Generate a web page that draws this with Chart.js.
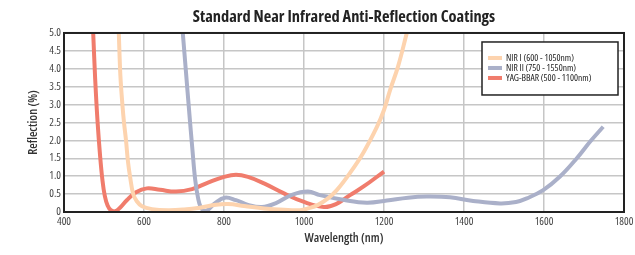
<!DOCTYPE html>
<html lang="en">
<head>
    <meta charset="UTF-8">
    <title>Standard Near Infrared Anti-Reflection Coatings</title>
    <script src="https://cdn.jsdelivr.net/npm/chart.js"></script>
    <style>
        html, body {
            margin: 0;
            padding: 0;
            background: #fff;
        }
        canvas {
            display: block;
        }
    </style>
</head>
<body>

    <canvas id="graficaAR" width="635" height="255"></canvas>

    <script>
        // Datos (longitud de onda en nm, reflexion en %)
        const nirIWave = [537, 541, 546, 550, 555, 560, 565, 573, 582, 595, 620, 660, 700, 740, 780, 810, 850, 900, 950, 990, 1010, 1035, 1060, 1082, 1115, 1148, 1182, 1200, 1215, 1235, 1257];
        const nirIRefl = [5.0, 3.8, 3.0, 2.5, 2.0, 1.4, 1.0, 0.5, 0.3, 0.16, 0.08, 0.05, 0.07, 0.12, 0.2, 0.22, 0.17, 0.1, 0.06, 0.05, 0.1, 0.2, 0.38, 0.61, 1.09, 1.65, 2.37, 2.85, 3.4, 4.06, 5.0];

        const nirIIWave = [697, 705, 713, 721, 728, 735, 742, 751, 762, 777, 802, 830, 860, 895, 930, 970, 1010, 1040, 1098, 1157, 1207, 1260, 1307, 1365, 1423, 1490, 1530, 1557, 1598, 1640, 1682, 1715, 1748];
        const nirIIRefl = [5.0, 3.9, 2.8, 1.75, 0.9, 0.4, 0.13, 0.03, 0.08, 0.24, 0.4, 0.33, 0.2, 0.14, 0.25, 0.48, 0.57, 0.47, 0.34, 0.26, 0.32, 0.4, 0.43, 0.41, 0.31, 0.24, 0.28, 0.38, 0.61, 0.99, 1.5, 1.96, 2.38];

        const yagWave = [473, 478, 484, 490, 496, 502, 509, 517, 528, 540, 557, 580, 607, 640, 680, 720, 760, 800, 830, 860, 900, 950, 1000, 1050, 1080, 1115, 1150, 1200];
        const yagRefl = [5.0, 3.7, 2.5, 1.6, 0.9, 0.45, 0.18, 0.05, 0.02, 0.12, 0.33, 0.55, 0.66, 0.62, 0.57, 0.64, 0.82, 0.98, 1.04, 0.98, 0.8, 0.52, 0.28, 0.14, 0.22, 0.47, 0.72, 1.13];

        const seriesNames = ['NIR I (600 - 1050nm)', 'NIR II (750 - 1550nm)', 'YAG-BBAR (500 - 1100nm)'];
        const xTicks = [400, 600, 800, 1000, 1200, 1400, 1600, 1800];
        const yTicks = [0, 0.5, 1.0, 1.5, 2.0, 2.5, 3.0, 3.5, 4.0, 4.5, 5.0];

        // Open Sans en ancho condensado (parecido a la fuente original)
        const fuente = '"Open Sans", "Roboto Condensed", sans-serif';

        function puntos(xs, ys) {
            return xs.map((x, i) => ({ x: x, y: ys[i] }));
        }

        // marco negro alrededor del area del grafico
        const marco = {
            id: 'marco',
            afterDatasetsDraw(chart) {
                const { ctx, chartArea: a } = chart;
                ctx.save();
                ctx.strokeStyle = '#222';
                ctx.lineWidth = 2;
                ctx.strokeRect(a.left, a.top, a.right - a.left, a.bottom - a.top);
                ctx.restore();
            }
        };

        // leyenda dentro del area del grafico, arriba a la derecha
        const leyenda = {
            id: 'leyenda',
            afterDraw(chart) {
                const { ctx, chartArea: a } = chart;
                const x = a.right - 142, y = a.top + 9, w = 136, h = 53;
                ctx.save();
                ctx.fillStyle = '#fff';
                ctx.fillRect(x, y, w, h);
                ctx.strokeStyle = '#222';
                ctx.lineWidth = 1.5;
                ctx.strokeRect(x, y, w, h);
                ctx.font = '500 condensed 9.5px ' + fuente;
                ctx.textBaseline = 'middle';
                chart.data.datasets.forEach((ds, i) => {
                    const ly = y + 16 + i * 10;
                    ctx.fillStyle = ds.borderColor;
                    ctx.fillRect(x + 6, ly - 2, 14, 4);
                    ctx.fillStyle = '#222';
                    ctx.fillText(ds.label, x + 24, ly);
                });
                ctx.restore();
            }
        };

        const ctx = document.getElementById('graficaAR').getContext('2d');
        const grafica = new Chart(ctx, {
            type: 'line',
            data: {
                datasets: [{
                    label: seriesNames[0],
                    data: puntos(nirIWave, nirIRefl),
                    borderColor: '#fdd3ae'
                }, {
                    label: seriesNames[1],
                    data: puntos(nirIIWave, nirIIRefl),
                    borderColor: '#aab0c9'
                }, {
                    label: seriesNames[2],
                    data: puntos(yagWave, yagRefl),
                    borderColor: '#f07c6c'
                }]
            },
            options: {
                responsive: false,
                animation: false,
                layout: { padding: { left: 0, right: 11, top: 0, bottom: 0 } },
                elements: {
                    line: { borderWidth: 4, tension: 0.4, fill: false },
                    point: { radius: 0 }
                },
                plugins: {
                    legend: { display: false },
                    tooltip: { enabled: false },
                    title: {
                        display: true,
                        fullSize: false,
                        text: 'Standard Near Infrared Anti-Reflection Coatings',
                        color: '#222',
                        font: { family: fuente, size: 16.4, weight: 'bold condensed', lineHeight: 1.2 },
                        padding: { top: 7, bottom: 6.3 }
                    }
                },
                scales: {
                    x: {
                        type: 'linear',
                        min: 400,
                        max: 1800,
                        afterBuildTicks: s => { s.ticks = xTicks.map(v => ({ value: v })); },
                        afterFit: s => { s.height = 43; s.paddingLeft = 0; s.paddingRight = 0; },
                        ticks: {
                            color: '#444',
                            font: { family: fuente, size: 11, weight: '500 condensed' },
                            padding: 3,
                            maxRotation: 0,
                            callback: v => String(v)
                        },
                        grid: { color: '#c6c6c6', lineWidth: 1.5, drawTicks: false },
                        border: { display: false },
                        title: {
                            display: true,
                            text: 'Wavelength (nm)',
                            color: '#333',
                            font: { family: fuente, size: 12.5, weight: '600 condensed' },
                            padding: { top: 0, bottom: 9 }
                        }
                    },
                    y: {
                        min: 0,
                        max: 5,
                        afterBuildTicks: s => { s.ticks = yTicks.map(v => ({ value: v })); },
                        afterFit: s => { s.width = 64; },
                        ticks: {
                            color: '#444',
                            font: { family: fuente, size: 11, weight: '500 condensed' },
                            padding: 3,
                            callback: v => v === 0 ? '0' : v.toFixed(1)
                        },
                        grid: { color: '#c6c6c6', lineWidth: 1.5, drawTicks: false },
                        border: { display: false },
                        title: {
                            display: true,
                            text: 'Reflection (%)',
                            color: '#333',
                            font: { family: fuente, size: 12.5, weight: '600 condensed' },
                            padding: { top: 26, bottom: 0 }
                        }
                    }
                }
            },
            plugins: [marco, leyenda]
        });
    </script>
</body>
</html>
